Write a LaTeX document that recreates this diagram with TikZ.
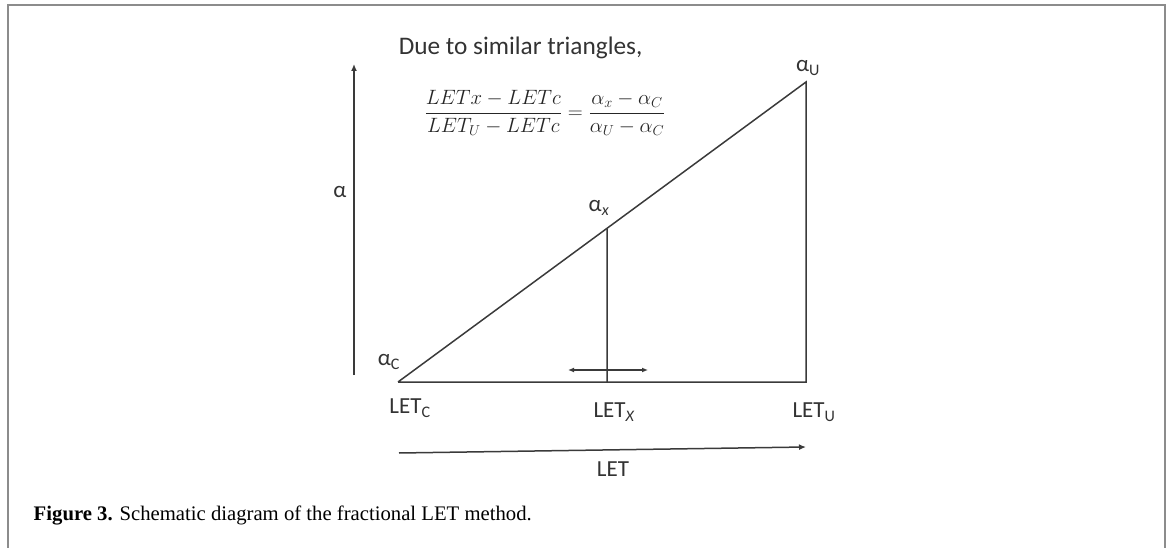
\documentclass[tikz,border=0pt]{standalone}
\usepackage{amsmath}
\usepackage{fontspec}
\setmainfont{Liberation Serif}
\newfontfamily\calib{Carlito}
\usepackage{tikz}
\usetikzlibrary{arrows.meta, positioning, calc}

\definecolor{lineg}{HTML}{3A3A3A}
\definecolor{frameg}{HTML}{8C8C8C}

\begin{document}
\begin{tikzpicture}[x=1pt, y=-1pt, line width=1.5pt, draw=lineg,
    every node/.style={inner sep=0pt, text=black!80},
    lbl/.style={font=\calib\fontsize{23}{25}\selectfont},
    tip/.style={-{Latex[length=7pt, width=6pt]}}]
    \useasboundingbox (0,0) rectangle (1171,548);
    % frame
    \coordinate (fl) at (8,548);
    \coordinate (ftl) at (8,5);
    \coordinate (ftr) at (1165,5);
    \coordinate (fr) at (1165,548);
    \draw[frameg, line width=2pt] (fl) -- (ftl) -- (ftr) -- (fr);
    % triangle corners
    \coordinate (aC) at (398,382);
    \coordinate (aU) at (806,82);
    \coordinate (uB) at (806,382);
    \coordinate (xB) at (607,382);
    \coordinate (aX) at ($(aC)!0.5123!(aU)$);
    \draw (aC) -- (aU) -- (uB) -- (aC);
    \draw (aX) -- (xB);
    % small double arrow
    \coordinate (dl) at (568,370);
    \coordinate (dr) at (648,370);
    \draw[{Latex[length=6pt, width=5pt]}-{Latex[length=6pt, width=5pt]}, line width=1.3pt] (dl) -- (dr);
    % axes
    \coordinate (ya0) at (354,375);
    \coordinate (ya1) at (354,64);
    \draw[tip] (ya0) -- (ya1);
    \coordinate (xa0) at (399,453);
    \coordinate (xa1) at (806,447);
    \draw[tip] (xa0) -- (xa1);
    % labels
    \node[lbl] (alab) at (340,192) {α};
    \node[lbl] (aClab) at (389,362) {α\textsubscript{C}};
    \node[lbl] (aXlab) at (599,208) {α\textsubscript{\itshape x}};
    \node[lbl] (aUlab) at (808,68) {α\textsubscript{U}};
    \node[lbl] (lCl) at (410,408) {LET\textsubscript{C}};
    \node[lbl] (lXl) at (614,412) {LET\textsubscript{\itshape X}};
    \node[lbl] (lUl) at (814,412) {LET\textsubscript{U}};
    \node[lbl] (lLET) at (613,469) {LET};
    \node[lbl, font=\calib\fontsize{25.3}{27}\selectfont, anchor=base west] (due) at (398,55) {Due to similar triangles,};
    \node[font=\fontsize{22}{25}\selectfont, text=black!85] (eq) at (545,113)
      {$\dfrac{LETx-LETc}{LET_U-LETc}=\dfrac{\alpha_x-\alpha_C}{\alpha_U-\alpha_C}$};
    \node[anchor=base west, text=black, font=\fontsize{20.7}{24}\selectfont] (cap) at (33,520)
      {\textbf{Figure 3.} Schematic diagram of the fractional LET method.};
\end{tikzpicture}
\end{document}
